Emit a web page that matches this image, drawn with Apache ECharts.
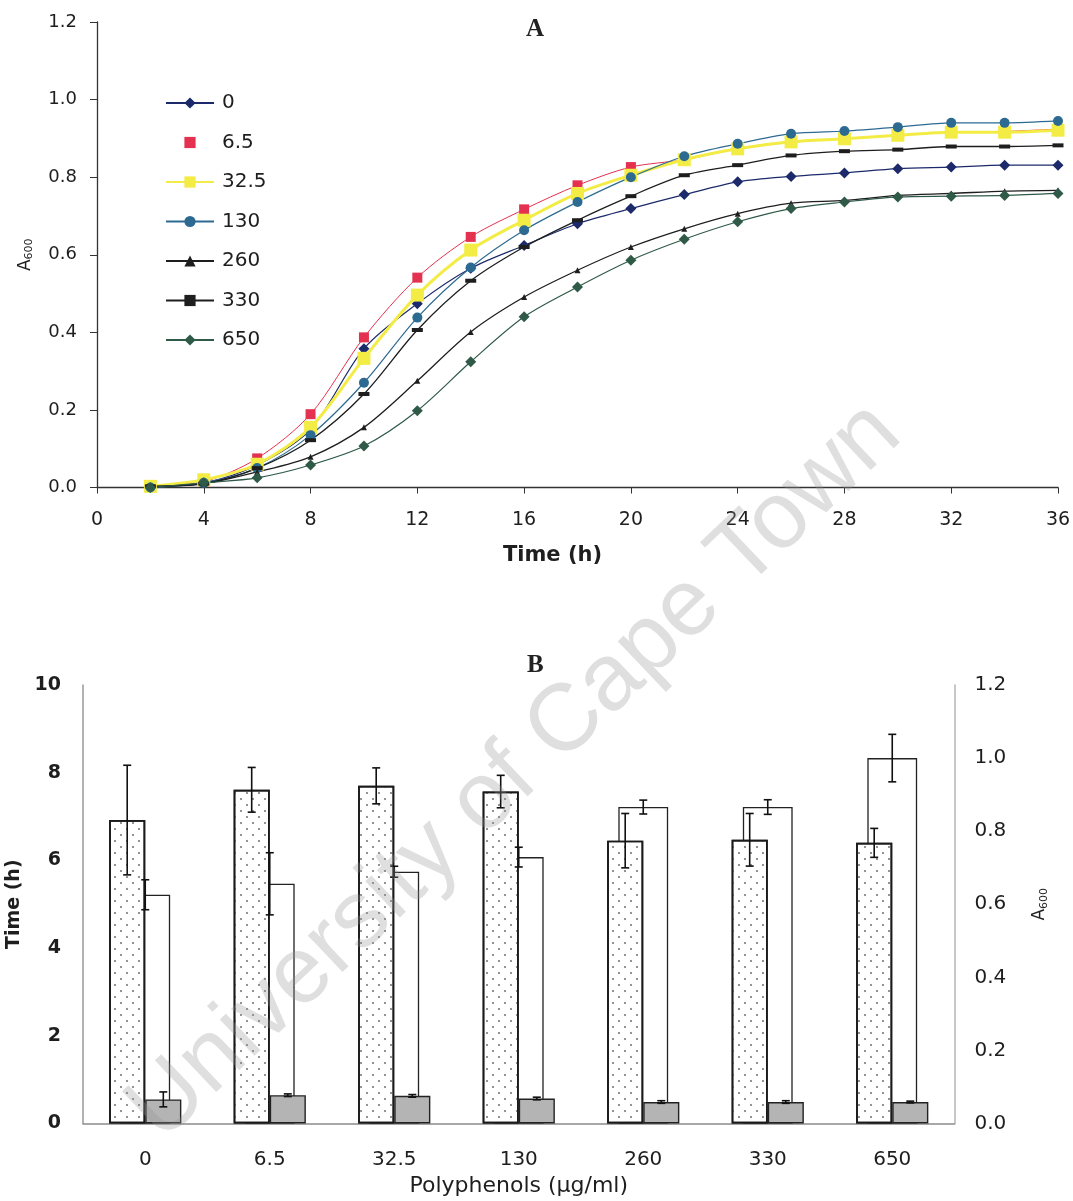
<!DOCTYPE html>
<html>
<head>
<meta charset="utf-8">
<script src="https://cdn.jsdelivr.net/npm/echarts@6/dist/echarts.min.js"></script>
<style>
  html, body { margin: 0; padding: 0; background: #fff; }
  #chart { width: 1073px; height: 1201px; }
</style>
</head>
<body>
<div id="chart"></div>
<script>
// ---- panel A: growth curves ----
const hours = [2, 4, 6, 8, 10, 12, 14, 16, 18, 20, 22, 24, 26, 28, 30, 32, 34, 36]
const od0   = [0.003, 0.012, 0.058, 0.15, 0.358, 0.474, 0.565, 0.624, 0.68, 0.719, 0.755, 0.788, 0.802, 0.811, 0.822, 0.826, 0.831, 0.831]
const od6   = [0.003, 0.015, 0.075, 0.189, 0.387, 0.541, 0.646, 0.717, 0.779, 0.826, 0.845, 0.873, 0.89, 0.899, 0.908, 0.916, 0.918, 0.924]
const od32  = [0.003, 0.02, 0.06, 0.155, 0.333, 0.496, 0.612, 0.689, 0.758, 0.805, 0.845, 0.873, 0.891, 0.899, 0.908, 0.916, 0.916, 0.921]
const od130 = [0.0, 0.012, 0.05, 0.135, 0.27, 0.438, 0.567, 0.663, 0.736, 0.8, 0.854, 0.886, 0.912, 0.919, 0.929, 0.94, 0.94, 0.945]
const od260 = [0.003, 0.01, 0.04, 0.079, 0.155, 0.275, 0.401, 0.491, 0.56, 0.62, 0.667, 0.706, 0.733, 0.74, 0.753, 0.758, 0.764, 0.766]
const od330 = [0.003, 0.01, 0.05, 0.122, 0.241, 0.406, 0.533, 0.62, 0.689, 0.751, 0.805, 0.831, 0.856, 0.867, 0.871, 0.879, 0.879, 0.882]
const od650 = [0.0, 0.012, 0.025, 0.058, 0.107, 0.198, 0.324, 0.44, 0.517, 0.586, 0.64, 0.685, 0.719, 0.736, 0.749, 0.751, 0.753, 0.758]

// ---- panel B: bars per polyphenol concentration ----
const concs = ['0', '6.5', '32.5', '130', '260', '330', '650']
const lagTime    = [6.92, 7.61, 7.70, 7.57, 6.45, 6.47, 6.40]
const lagTimeErr = [1.25, 0.51, 0.41, 0.37, 0.62, 0.60, 0.33]
const maxOD      = [0.626, 0.656, 0.689, 0.729, 0.866, 0.866, 1.0]
const maxODErr   = [0.041, 0.085, 0.015, 0.027, 0.019, 0.02, 0.065]
const growthRate    = [0.55, 0.645, 0.63, 0.57, 0.49, 0.49, 0.49]
const growthRateErr = [0.17, 0.03, 0.03, 0.03, 0.03, 0.03, 0.02]

const FONT = '"DejaVu Sans", sans-serif'
const TXT = '#1e1e1e'

function curve(name, vals, color, symbol, size, width) {
  return {
    name, type: 'line', xAxisIndex: 0, yAxisIndex: 0,
    data: hours.map((h, i) => [h, vals[i]]),
    smooth: 0.3,
    symbol, symbolSize: size,
    lineStyle: { color, width },
    itemStyle: { color }
  }
}

// error bars drawn with a custom series, shifted by a fraction of the category band
function errorBars(xIdx, yIdx, vals, errs, shift) {
  return {
    type: 'custom', xAxisIndex: xIdx, yAxisIndex: yIdx, z: 6,
    data: vals.map((v, i) => [i, v, errs[i]]),
    renderItem(params, api) {
      const band = api.size([1, 0])[0]
      const x = api.coord([api.value(0), 0])[0] + shift * band
      const hi = api.coord([api.value(0), api.value(1) + api.value(2)])[1]
      const lo = api.coord([api.value(0), api.value(1) - api.value(2)])[1]
      const cap = 4
      const style = { stroke: '#111', lineWidth: 1.6 }
      return {
        type: 'group',
        children: [
          { type: 'line', shape: { x1: x, y1: hi, x2: x, y2: lo }, style },
          { type: 'line', shape: { x1: x - cap, y1: hi, x2: x + cap, y2: hi }, style },
          { type: 'line', shape: { x1: x - cap, y1: lo, x2: x + cap, y2: lo }, style }
        ]
      }
    }
  }
}

const a600Name = {
  rich: {
    a: { fontSize: 17, color: TXT, fontFamily: FONT },
    s: { fontSize: 11, color: TXT, fontFamily: FONT, padding: [8, 0, 0, 0] }
  }
}

const chart = echarts.init(document.getElementById('chart'), null, { renderer: 'canvas' })

chart.setOption({
  animation: false,
  backgroundColor: '#fff',
  textStyle: { fontFamily: FONT },
  title: [
    { text: 'A', left: 521, top: 12, textStyle: { fontFamily: '"Liberation Serif", serif', fontSize: 25, fontWeight: 'bold', color: '#222' } },
    { text: 'B', left: 522, top: 648, textStyle: { fontFamily: '"Liberation Serif", serif', fontSize: 25, fontWeight: 'bold', color: '#222' } }
  ],
  legend: {
    orient: 'vertical', left: 160, top: 88,
    itemWidth: 48, itemHeight: 14, itemGap: 19.5,
    textStyle: { fontSize: 20, color: TXT, padding: [0, 0, 0, 3] },
    data: ['0', { name: '6.5', lineStyle: { opacity: 0 } }, '32.5', '130', '260', '330', '650']
  },
  grid: [
    { left: 97, right: 15, top: 22, bottom: 713.5, outerBoundsMode: 'none' },
    { left: 83, right: 118.5, top: 685, bottom: 77.5, outerBoundsMode: 'none' }
  ],
  xAxis: [
    {
      gridIndex: 0, type: 'value', min: 0, max: 36, interval: 4,
      name: 'Time (h)', nameLocation: 'middle', nameGap: 58,
      nameTextStyle: { fontSize: 21, fontWeight: 'bold', color: TXT, padding: [0, 50, 0, 0] },
      axisLine: { lineStyle: { color: '#333', width: 1.3 } },
      axisTick: { length: 6, lineStyle: { color: '#333' } },
      axisLabel: { fontSize: 19, color: TXT, margin: 23 },
      splitLine: { show: false }
    },
    {
      gridIndex: 1, type: 'category', data: concs,
      name: 'Polyphenols (µg/ml)', nameLocation: 'middle', nameGap: 52,
      nameTextStyle: { fontSize: 22, color: TXT },
      axisLine: { lineStyle: { color: '#8c8c8c', width: 1.5 } },
      axisTick: { length: 5, lineStyle: { color: '#ddd' } },
      axisLabel: { fontSize: 20, color: TXT, margin: 26 }
    },
    { gridIndex: 1, type: 'category', data: concs, show: false }
  ],
  yAxis: [
    {
      gridIndex: 0, type: 'value', min: 0, max: 1.2, interval: 0.2,
      name: '{a|A}{s|600}', nameLocation: 'middle', nameGap: 62, nameRotate: 90,
      nameTextStyle: a600Name,
      axisLine: { show: true, lineStyle: { color: '#333', width: 1.3 } },
      axisTick: { show: true, length: 7, lineStyle: { color: '#333' } },
      axisLabel: { fontSize: 18, color: TXT, margin: 20, formatter: v => v.toFixed(1) },
      splitLine: { show: false }
    },
    {
      gridIndex: 1, type: 'value', min: 0, max: 10, interval: 2,
      name: 'Time (h)', nameLocation: 'middle', nameGap: 50, nameRotate: 90,
      nameTextStyle: { fontSize: 19, fontWeight: 'bold', color: TXT },
      axisLine: { show: true, lineStyle: { color: '#999', width: 1.5 } },
      axisTick: { show: false },
      axisLabel: { fontSize: 19, fontWeight: 'bold', color: TXT, margin: 22 },
      splitLine: { show: false }
    },
    {
      gridIndex: 1, type: 'value', position: 'right', min: 0, max: 1.2, interval: 0.2,
      name: '{a|A}{s|600}', nameLocation: 'middle', nameGap: 76, nameRotate: 90,
      nameTextStyle: a600Name,
      axisLine: { show: true, lineStyle: { color: '#b5b5b5', width: 1.5 } },
      axisTick: { show: false },
      axisLabel: { fontSize: 20, color: TXT, margin: 20, formatter: v => v.toFixed(1) },
      splitLine: { show: false }
    }
  ],
  series: [
    curve('0', od0, '#1c2a6b', 'diamond', 11, 1.2),
    curve('6.5', od6, '#e3314f', 'rect', 10, 1),
    curve('32.5', od32, '#f3ec45', 'rect', 13, 3),
    curve('130', od130, '#2c6a92', 'circle', 10, 1.2),
    curve('260', od260, '#1e1e1e', 'triangle', 6, 1.3),
    curve('330', od330, '#1e1e1e', 'rect', [11, 4], 1.3),
    curve('650', od650, '#2f5a48', 'diamond', 11, 1.2),

    {
      name: 'maxOD', type: 'bar', xAxisIndex: 2, yAxisIndex: 2,
      data: maxOD, barWidth: '40%',
      itemStyle: { color: '#fff', borderColor: '#222', borderWidth: 1.3 }
    },
    {
      name: 'lag', type: 'bar', xAxisIndex: 1, yAxisIndex: 1,
      data: lagTime, barWidth: '29%', barGap: '0%',
      itemStyle: {
        color: '#fff', borderColor: '#1a1a1a', borderWidth: 1.7,
        decal: {
          symbol: 'circle', symbolSize: 1, color: '#6f6f6f',
          dashArrayX: [[2, 10], [0, 6, 2, 4]], dashArrayY: [2, 3.5]
        }
      }
    },
    {
      name: 'rate', type: 'bar', xAxisIndex: 1, yAxisIndex: 1,
      data: growthRate, barWidth: '29%',
      itemStyle: { color: '#b4b4b4', borderColor: '#222', borderWidth: 1.4 }
    },
    errorBars(2, 2, maxOD, maxODErr, 0),
    errorBars(1, 1, lagTime, lagTimeErr, -0.145),
    errorBars(1, 1, growthRate, growthRateErr, 0.145)
  ],
  graphic: [
    {
      type: 'text', x: 515, y: 772, rotation: 0.76, z: 100, silent: true,
      style: {
        text: 'University of Cape Town', fontSize: 95, fontFamily: '"Liberation Sans", Arial, sans-serif',
        fill: 'rgba(150,150,150,0.3)', align: 'center', verticalAlign: 'middle'
      }
    }
  ]
})
</script>
</body>
</html>
